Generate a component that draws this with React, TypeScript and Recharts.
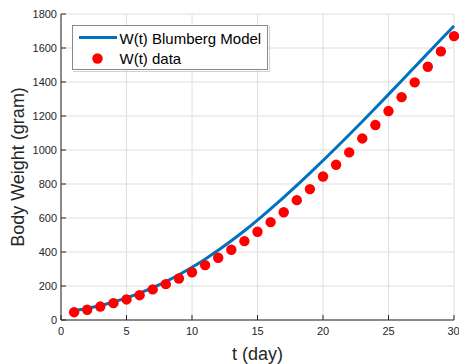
import { CartesianGrid, ComposedChart, Line, Scatter, XAxis, YAxis } from "recharts"

// days
const days = [
  1, 2, 3, 4, 5, 6, 7, 8, 9, 10, 11, 12, 13, 14, 15, 16, 17, 18, 19, 20, 21, 22, 23, 24, 25, 26, 27, 28, 29, 30,
]
// W(t) data (gram)
const measured = [
  46, 60, 79, 99, 121, 146, 180, 211, 244, 281, 323, 366, 413, 464, 519, 576, 634, 705, 770, 844, 913, 986, 1068,
  1147, 1229, 1311, 1398, 1490, 1580, 1670,
]
// W(t) Blumberg model (gram)
const model = [
  55, 68, 85, 106, 130, 158, 190, 226, 266, 310, 358, 410, 466, 525, 588, 654, 722, 792, 864, 938, 1013, 1090, 1168,
  1247, 1327, 1407, 1488, 1569, 1650, 1730,
]
const xTicks = [0, 5, 10, 15, 20, 25, 30]
const yTicks = [0, 200, 400, 600, 800, 1000, 1200, 1400, 1600, 1800]

const rows = days.map((t, i) => ({ t, model: model[i], w: measured[i] }))

const FONT = '"Liberation Sans", Arial, sans-serif'
const INK = "#262626"
const BLUE = "#0072BD"
const RED = "#FF0000"

const Dot = (props: any) => <circle cx={props.cx} cy={props.cy} r={5.2} fill={RED} />
const NoLabel = () => <g />

export default function App() {
  return (
    <div style={{ position: "absolute", left: 0, top: 0, width: 459, height: 364, background: "#fff", fontFamily: FONT }}>
      <ComposedChart width={459} height={364} data={rows} margin={{ top: 14, right: 5, left: 0, bottom: 0 }}>
        <CartesianGrid stroke="#dedede" strokeWidth={1} />
        <XAxis
          dataKey="t"
          type="number"
          domain={[0, 30]}
          ticks={xTicks}
          height={44}
          tickSize={-5}
          tickMargin={12}
          axisLine={{ stroke: INK }}
          tickLine={{ stroke: INK }}
          tick={{ fill: INK, fontSize: 11, fontFamily: FONT }}
          label={{ value: "t (day)", position: "insideBottom", offset: 4, fill: INK, fontSize: 18, fontFamily: FONT }}
        />
        <XAxis
          xAxisId="top"
          orientation="top"
          dataKey="t"
          type="number"
          domain={[0, 30]}
          ticks={xTicks}
          height={0}
          tickSize={-5}
          axisLine={{ stroke: INK }}
          tickLine={{ stroke: INK }}
          tick={NoLabel}
        />
        <YAxis
          type="number"
          domain={[0, 1800]}
          ticks={yTicks}
          width={61}
          tickSize={-5}
          tickMargin={9}
          axisLine={{ stroke: INK }}
          tickLine={{ stroke: INK }}
          tick={{ fill: INK, fontSize: 11, fontFamily: FONT }}
          label={{
            value: "Body Weight (gram)",
            angle: -90,
            position: "insideLeft",
            offset: 18,
            fill: INK,
            fontSize: 18,
            fontFamily: FONT,
            style: { textAnchor: "middle" },
          }}
        />
        <YAxis
          yAxisId="right"
          orientation="right"
          type="number"
          domain={[0, 1800]}
          ticks={yTicks}
          width={0}
          tickSize={-5}
          axisLine={{ stroke: INK }}
          tickLine={{ stroke: INK }}
          tick={NoLabel}
        />
        <Line dataKey="model" stroke={BLUE} strokeWidth={3} dot={false} type="monotone" isAnimationActive={false} />
        <Scatter dataKey="w" shape={Dot} isAnimationActive={false} />
      </ComposedChart>
      <svg
        width={197}
        height={46}
        style={{ position: "absolute", left: 71.5, top: 24.5, boxShadow: "1px 1px 0 #cfcfcf" }}
      >
        <rect x={0.5} y={0.5} width={195} height={44} fill="#fff" stroke="#8a8a8a" />
        <line x1={7} y1={12.5} x2={45} y2={12.5} stroke={BLUE} strokeWidth={3} />
        <text x={47.5} y={13} fontSize={15} fill="#000" dominantBaseline="central" fontFamily={FONT}>
          W(t) Blumberg Model
        </text>
        <circle cx={25.5} cy={33.5} r={5.2} fill={RED} />
        <text x={47.5} y={33.5} fontSize={15} fill="#000" dominantBaseline="central" fontFamily={FONT}>
          W(t) data
        </text>
      </svg>
    </div>
  )
}
